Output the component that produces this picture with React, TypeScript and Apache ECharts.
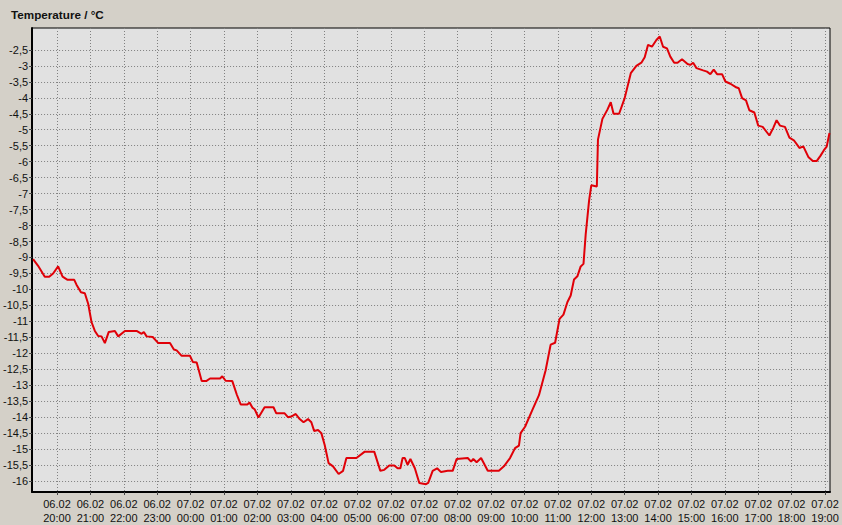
import React, { useEffect, useRef } from "react";
import * as echarts from "echarts";

const TITLE = "Temperature / °C";

// minutes after 06.02 20:00
const MINUTES = [
  -43, -34, -22, -14, -7, 2, 10, 19, 31, 35,
  43, 50, 56, 62, 68, 74, 80, 86, 93, 104,
  110, 122, 143, 152, 156, 161, 172, 182, 203, 210,
  215, 224, 239, 244, 251, 260, 268, 275, 293, 297,
  303, 315, 323, 330, 342, 346, 351, 355, 362, 373,
  389, 394, 409, 415, 421, 429, 435, 443, 451, 457,
  462, 469, 475, 481, 488, 496, 506, 514, 520, 538,
  553, 570, 581, 588, 597, 606, 612, 617, 621, 625,
  630, 635, 643, 651, 663, 667, 675, 683, 690, 702,
  711, 718, 738, 744, 748, 754, 762, 774, 794, 803,
  814, 823, 830, 833, 841, 854, 866, 878, 887, 895,
  903, 910, 917, 923, 929, 935, 941, 946, 950, 956,
  960, 970, 972, 980, 989, 995, 1000, 1010, 1020, 1031,
  1041, 1050, 1056, 1062, 1069, 1077, 1083, 1089, 1096, 1102,
  1109, 1115, 1123, 1133, 1138, 1143, 1149, 1161, 1168, 1174,
  1180, 1186, 1195, 1201, 1210, 1219, 1225, 1231, 1238, 1244,
  1253, 1260, 1268, 1280, 1287, 1293, 1299, 1308, 1316, 1324,
  1334, 1341, 1350, 1358, 1365, 1372, 1378, 1383, 1388,
];

const TEMPS = [
  -9.05, -9.26, -9.6, -9.6, -9.5, -9.28, -9.6, -9.7, -9.7, -9.85,
  -10.09, -10.12, -10.45, -11.02, -11.3, -11.46, -11.47, -11.68, -11.33, -11.3,
  -11.47, -11.3, -11.3, -11.39, -11.33, -11.47, -11.49, -11.68, -11.68, -11.88,
  -11.91, -12.08, -12.08, -12.27, -12.29, -12.87, -12.87, -12.79, -12.79, -12.72,
  -12.86, -12.87, -13.29, -13.6, -13.6, -13.54, -13.7, -13.75, -14.01, -13.69,
  -13.69, -13.88, -13.88, -14.0, -13.98, -13.9, -14.04, -14.16, -14.06, -14.16,
  -14.43, -14.4, -14.5, -14.87, -15.44, -15.54, -15.78, -15.68, -15.28, -15.28,
  -15.08, -15.08, -15.68, -15.65, -15.51, -15.51, -15.6, -15.6, -15.28, -15.28,
  -15.49, -15.31, -15.6, -16.06, -16.1, -16.06, -15.68, -15.6, -15.72, -15.68,
  -15.68, -15.31, -15.28, -15.39, -15.31, -15.41, -15.28, -15.68, -15.68, -15.54,
  -15.28, -14.97, -14.89, -14.5, -14.3, -13.78, -13.31, -12.53, -11.73, -11.67,
  -10.92, -10.79, -10.4, -10.19, -9.69, -9.59, -9.28, -9.2, -8.27, -7.23,
  -6.74, -6.78, -5.31, -4.66, -4.37, -4.14, -4.5, -4.5, -4.01, -3.23,
  -3.0, -2.9, -2.73, -2.34, -2.4, -2.19, -2.08, -2.4, -2.45, -2.71,
  -2.9, -2.9, -2.79, -2.94, -2.97, -2.9, -3.07, -3.14, -3.18, -3.26,
  -3.12, -3.26, -3.26, -3.49, -3.56, -3.66, -3.7, -4.01, -4.08, -4.39,
  -4.46, -4.87, -4.91, -5.18, -4.94, -4.7, -4.87, -4.91, -5.25, -5.33,
  -5.57, -5.52, -5.85, -5.98, -5.98, -5.81, -5.64, -5.53, -5.1,
];

// hour ticks (hours after 06.02 20:00) and their labels
const X_TICK_HOURS = [
  0, 1, 2, 3, 4, 5, 6, 7, 8, 9, 10, 11, 12, 13, 14, 15, 16, 17, 18, 19, 20, 21, 22, 23,
];
const X_TICK_LABELS = [
  "06.02\n20:00", "06.02\n21:00", "06.02\n22:00", "06.02\n23:00",
  "07.02\n00:00", "07.02\n01:00", "07.02\n02:00", "07.02\n03:00",
  "07.02\n04:00", "07.02\n05:00", "07.02\n06:00", "07.02\n07:00",
  "07.02\n08:00", "07.02\n09:00", "07.02\n10:00", "07.02\n11:00",
  "07.02\n12:00", "07.02\n13:00", "07.02\n14:00", "07.02\n15:00",
  "07.02\n16:00", "07.02\n17:00", "07.02\n18:00", "07.02\n19:00",
];
const Y_TICKS = [
  -16, -15.5, -15, -14.5, -14, -13.5, -13, -12.5, -12, -11.5, -11, -10.5, -10,
  -9.5, -9, -8.5, -8, -7.5, -7, -6.5, -6, -5.5, -5, -4.5, -4, -3.5, -3, -2.5,
];

const X_MIN = -0.7467;
const X_MAX = 23.149;
const Y_MIN = -16.343;
const Y_MAX = -1.814;

const FONT = "Liberation Sans";

export default function App() {
  const ref = useRef<HTMLDivElement>(null);

  useEffect(() => {
    if (!ref.current) return;
    const chart = echarts.init(ref.current, null, { renderer: "svg" });
    const data = MINUTES.map((m, i) => [m / 60, TEMPS[i]]);
    chart.setOption({
      animation: false,
      backgroundColor: "#d4d0c8",
      title: {
        text: TITLE,
        left: 11,
        top: 8,
        padding: 0,
        textStyle: {
          fontFamily: FONT,
          fontSize: 11.7,
          fontWeight: "bold",
          color: "#111",
        },
      },
      grid: {
        left: 30,
        right: 12,
        top: 28,
        bottom: 31,
        show: true,
        backgroundColor: "#e1e1e1",
        borderColor: "#000",
        borderWidth: 1,
      },
      xAxis: {
        type: "value",
        min: X_MIN,
        max: X_MAX,
        axisLine: { show: true, onZero: false, lineStyle: { color: "#000", width: 2 } },
        axisTick: {
          show: true,
          customValues: X_TICK_HOURS,
          length: 3,
          lineStyle: { color: "#444" },
        },
        axisLabel: {
          customValues: X_TICK_HOURS,
          formatter: (v: number) => X_TICK_LABELS[Math.round(v)] ?? "",
          fontFamily: FONT,
          fontSize: 11,
          lineHeight: 14,
          color: "#111",
          margin: 5,
        },
        splitLine: {
          show: true,
          lineStyle: { color: "#808080", width: 1, type: [1, 2] },
        },
      },
      yAxis: {
        type: "value",
        min: Y_MIN,
        max: Y_MAX,
        axisLine: { show: true, onZero: false, lineStyle: { color: "#000", width: 2 } },
        axisTick: {
          show: true,
          customValues: Y_TICKS,
          length: 3,
          lineStyle: { color: "#444" },
        },
        axisLabel: {
          customValues: Y_TICKS,
          formatter: (v: number) => String(Number(v.toFixed(1))).replace(".", ","),
          fontFamily: FONT,
          fontSize: 11,
          color: "#111",
          margin: 4,
        },
        splitLine: {
          show: true,
          lineStyle: { color: "#808080", width: 1, type: [1, 2] },
        },
      },
      series: [
        {
          type: "line",
          data,
          showSymbol: false,
          symbol: "none",
          lineStyle: { color: "#e00008", width: 2 },
          clip: true,
        },
      ],
    });
    return () => chart.dispose();
  }, []);

  return (
    <div
      ref={ref}
      style={{ position: "absolute", left: 0, top: 0, width: 842, height: 525 }}
    />
  );
}
